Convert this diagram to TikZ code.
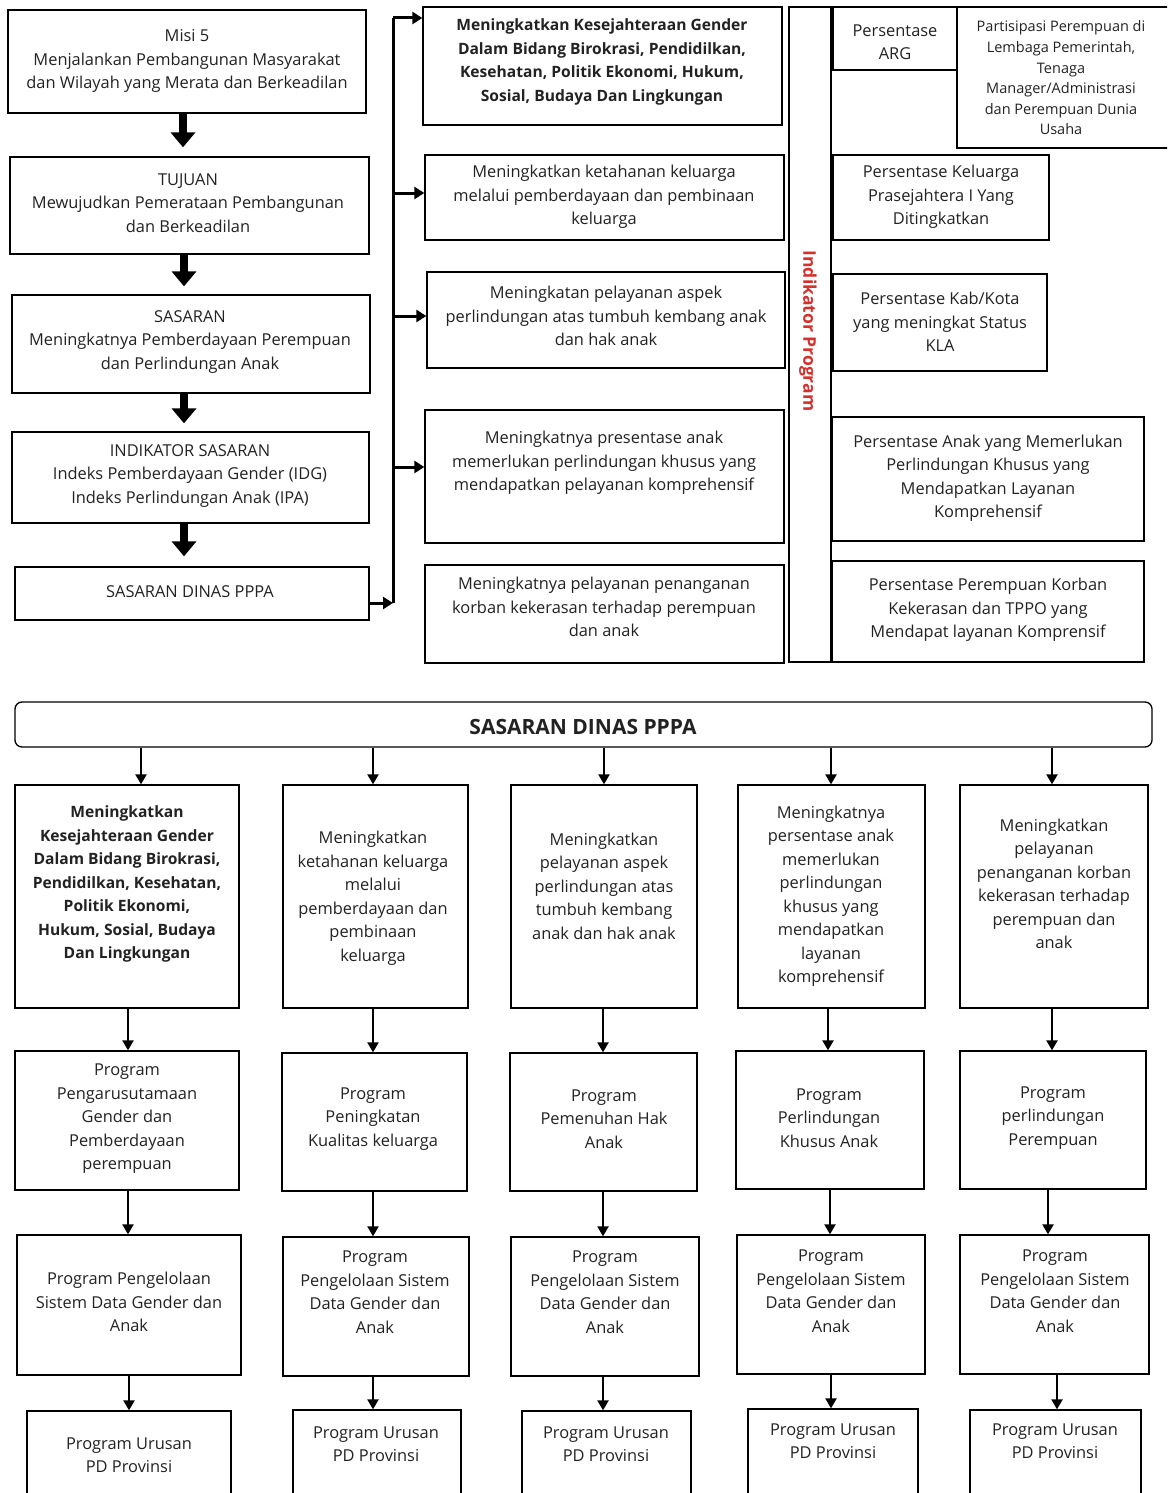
\documentclass[tikz,border=0pt]{standalone}
\usepackage{fontspec}
\setmainfont{Open Sans}
\usetikzlibrary{arrows.meta,fit,calc}
\definecolor{redtxt}{RGB}{214,48,44}
\definecolor{ink}{RGB}{34,34,34}
\tikzset{
  box/.style={draw, line width=1.3pt, rectangle, inner sep=0pt},
  txt/.style={align=center, inner sep=0pt, text=ink, font=\fontsize{16.4}{23.5}\selectfont},
  btxt/.style={align=center, inner sep=0pt, text=ink, font=\fontsize{15.6}{23.5}\selectfont\bfseries},
  stxt/.style={align=center, inner sep=0pt, text=ink, font=\fontsize{14.5}{20.6}\selectfont},
  thinarr/.style={line width=2.2pt, -{Triangle[width=11pt,length=10pt]}},
  fatarr/.style={line width=8pt, -{Triangle[width=24pt,length=15pt]}},
  trunk/.style={line width=3pt},
  brarr/.style={line width=3pt, -{Triangle[width=12pt,length=10pt]}},
}
\begin{document}
\begin{tikzpicture}[x=1pt,y=-1pt]
\useasboundingbox (0,0) rectangle (1167,1493);
\clip (0,0) rectangle (1167,1493);
\fill[white] (0,0) rectangle (1167,1493);

% ---------- left column ----------
\node[box, fit={(8,10) (366,113)}] (misi) {};
\node[txt] (tmisi) at (187,61) {Misi 5\\Menjalankan Pembangunan Masyarakat\\dan Wilayah yang Merata dan Berkeadilan};
\node[box, fit={(10,157) (369,254)}] (tujuan) {};
\node[txt] (ttujuan) at (188,203) {TUJUAN\\Mewujudkan Pemerataan Pembangunan\\dan Berkeadilan};
\node[box, fit={(12,295) (370,393)}] (sasaran) {};
\node[txt] (tsasaran) at (190,342) {SASARAN\\Meningkatnya Pemberdayaan Perempuan\\dan Perlindungan Anak};
\node[box, fit={(12,432) (369,523)}] (indik) {};
\node[txt] (tindik) at (190,476) {INDIKATOR SASARAN\\Indeks Pemberdayaan Gender (IDG)\\Indeks Perlindungan Anak (IPA)};
\node[box, fit={(15,567) (369,620)}] (dinas) {};
\node[txt] (tdinas) at (190,592) {SASARAN DINAS PPPA};

\draw[fatarr] (misi.south -| 183,0) -- ([yshift=9pt]tujuan.north -| 183,0);
\draw[fatarr] (tujuan.south -| 184,0) -- ([yshift=8pt]sasaran.north -| 184,0);
\draw[fatarr] (sasaran.south -| 184,0) -- ([yshift=8pt]indik.north -| 184,0);
\draw[fatarr] (indik.south -| 184,0) -- ([yshift=10pt]dinas.north -| 184,0);

% ---------- middle column ----------
\node[box, fit={(423,7) (782,125)}] (m1) {};
\node[btxt] (tm1) at (602,62) {Meningkatkan Kesejahteraan Gender\\Dalam Bidang Birokrasi, Pendidilkan,\\Kesehatan, Politik Ekonomi, Hukum,\\Sosial, Budaya Dan Lingkungan};
\node[box, fit={(425,155) (784,240)}] (m2) {};
\node[txt] (tm2) at (604,197) {Meningkatkan ketahanan keluarga\\melalui pemberdayaan dan pembinaan\\keluarga};
\node[box, fit={(427,272) (785,368)}] (m3) {};
\node[txt] (tm3) at (606,316) {Meningkatan pelayanan aspek\\perlindungan atas tumbuh kembang anak\\dan hak anak};
\node[box, fit={(425,410) (784,543)}] (m4) {};
\node[txt] (tm4) at (604,463) {Meningkatnya presentase anak\\memerlukan perlindungan khusus yang\\mendapatkan pelayanan komprehensif};
\node[box, fit={(425,565) (784,663)}] (m5) {};
\node[txt] (tm5) at (604,607) {Meningkatnya pelayanan penanganan\\korban kekerasan terhadap perempuan\\dan anak};

% trunk
\coordinate (ttop) at (393,18);
\coordinate (tbot) at (393,603);
\draw[brarr] (dinas.east |- tbot) -- (tbot);
\draw[trunk] (tbot) -- (ttop);
\draw[brarr] (ttop) -- (m1.west |- ttop);
\draw[brarr] (393,193) coordinate (b2) -- (m2.west |- b2);
\draw[brarr] (393,316) coordinate (b3) -- (m3.west |- b3);
\draw[brarr] (393,467) coordinate (b4) -- (m4.west |- b4);

% ---------- indikator program ----------
\node[box, fit={(789,7) (831,662)}] (ip) {};
\node[btxt, text=redtxt, font=\fontsize{17.5}{20}\selectfont\bfseries, rotate=-90] (tip) at (808,331) {Indikator Program};

% ---------- right column ----------
\node[box, fit={(833,7) (957,70)}] (r1a) {};
\node[txt] (tr1a) at (895,42) {Persentase\\ARG};
\node[box, fit={(957,7) (1172,148)}] (r1b) {};
\node[stxt] (tr1b) at (1061,78) {Partisipasi Perempuan di\\Lembaga Pemerintah,\\Tenaga\\Manager/Administrasi\\dan Perempuan Dunia\\Usaha};
\node[box, fit={(833,155) (1049,240)}] (r2) {};
\node[txt] (tr2) at (941,197) {Persentase Keluarga\\Prasejahtera I Yang\\Ditingkatkan};
\node[box, fit={(833,274) (1047,371)}] (r3) {};
\node[txt] (tr3) at (940,322) {Persentase Kab/Kota\\yang meningkat Status\\KLA};
\node[box, fit={(832,417) (1144,541)}] (r4) {};
\node[txt] (tr4) at (988,478) {Persentase Anak yang Memerlukan\\Perlindungan Khusus yang\\Mendapatkan Layanan\\Komprehensif};
\node[box, fit={(832,561) (1144,662)}] (r5) {};
\node[txt] (tr5) at (988,610) {Persentase Perempuan Korban\\Kekerasan dan TPPO yang\\Mendapat layanan Komprensif};

% ---------- bottom section ----------
\node[box, rounded corners=7pt, fit={(15,702) (1152,747)}] (hdr) {};
\node[btxt, font=\fontsize{21}{24}\selectfont\bfseries] (thdr) at (583,727) {SASARAN DINAS PPPA};

% row 1
\node[box, fit={(15,785) (239,1008)}] (c1) {};
\node[btxt] (tc1) at (127,884) {Meningkatkan\\Kesejahteraan Gender\\Dalam Bidang Birokrasi,\\Pendidilkan, Kesehatan,\\Politik Ekonomi,\\Hukum, Sosial, Budaya\\Dan Lingkungan};
\node[box, fit={(283,785) (468,1008)}] (c2) {};
\node[txt] (tc2) at (373,898) {Meningkatkan\\ketahanan keluarga\\melalui\\pemberdayaan dan\\pembinaan\\keluarga};
\node[box, fit={(511,785) (697,1008)}] (c3) {};
\node[txt] (tc3) at (604,886) {Meningkatkan\\pelayanan aspek\\perlindungan atas\\tumbuh kembang\\anak dan hak anak};
\node[box, fit={(738,785) (925,1008)}] (c4) {};
\node[txt] (tc4) at (831,896) {Meningkatnya\\persentase anak\\memerlukan\\perlindungan\\khusus yang\\mendapatkan\\layanan\\komprehensif};
\node[box, fit={(960,785) (1148,1008)}] (c5) {};
\node[txt] (tc5) at (1054,884) {Meningkatkan\\pelayanan\\penanganan korban\\kekerasan terhadap\\perempuan dan\\anak};

% row 2
\node[box, fit={(15,1051) (239,1190)}] (d1) {};
\node[txt] (td1) at (127,1119) {Program\\Pengarusutamaan\\Gender dan\\Pemberdayaan\\perempuan};
\node[box, fit={(282,1053) (467,1191)}] (d2) {};
\node[txt] (td2) at (373,1119) {Program\\Peningkatan\\Kualitas keluarga};
\node[box, fit={(510,1053) (697,1191)}] (d3) {};
\node[txt] (td3) at (604,1119) {Program\\Pemenuhan Hak\\Anak};
\node[box, fit={(736,1051) (924,1189)}] (d4) {};
\node[txt] (td4) at (829,1118) {Program\\Perlindungan\\Khusus Anak};
\node[box, fit={(960,1051) (1146,1189)}] (d5) {};
\node[txt] (td5) at (1053,1118) {Program\\perlindungan\\Perempuan};

% row 3
\node[box, fit={(17,1235) (241,1375)}] (e1) {};
\node[txt] (te1) at (129,1302) {Program Pengelolaan\\Sistem Data Gender dan\\Anak};
\node[box, fit={(283,1237) (469,1376)}] (e2) {};
\node[txt] (te2) at (375,1292) {Program\\Pengelolaan Sistem\\Data Gender dan\\Anak};
\node[box, fit={(511,1237) (699,1376)}] (e3) {};
\node[txt] (te3) at (605,1292) {Program\\Pengelolaan Sistem\\Data Gender dan\\Anak};
\node[box, fit={(737,1235) (925,1374)}] (e4) {};
\node[txt] (te4) at (831,1291) {Program\\Pengelolaan Sistem\\Data Gender dan\\Anak};
\node[box, fit={(960,1235) (1149,1374)}] (e5) {};
\node[txt] (te5) at (1055,1291) {Program\\Pengelolaan Sistem\\Data Gender dan\\Anak};

% row 4
\node[box, fit={(27,1411) (231,1515)}] (f1) {};
\node[txt] (tf1) at (129,1455) {Program Urusan\\PD Provinsi};
\node[box, fit={(293,1410) (461,1515)}] (f2) {};
\node[txt] (tf2) at (376,1444) {Program Urusan\\PD Provinsi};
\node[box, fit={(522,1411) (691,1515)}] (f3) {};
\node[txt] (tf3) at (606,1444) {Program Urusan\\PD Provinsi};
\node[box, fit={(748,1409) (918,1515)}] (f4) {};
\node[txt] (tf4) at (833,1441) {Program Urusan\\PD Provinsi};
\node[box, fit={(970,1410) (1141,1515)}] (f5) {};
\node[txt] (tf5) at (1055,1441) {Program Urusan\\PD Provinsi};

% arrows header -> row 1
\draw[thinarr] (hdr.south -| 141,0) -- (c1.north -| 141,0);
\draw[thinarr] (hdr.south -| 373,0) -- (c2.north -| 373,0);
\draw[thinarr] (hdr.south -| 604,0) -- (c3.north -| 604,0);
\draw[thinarr] (hdr.south -| 831,0) -- (c4.north -| 831,0);
\draw[thinarr] (hdr.south -| 1052,0) -- (c5.north -| 1052,0);
% row 1 -> row 2
\draw[thinarr] (c1.south -| 128,0) -- (d1.north -| 128,0);
\draw[thinarr] (c2.south -| 373,0) -- (d2.north -| 373,0);
\draw[thinarr] (c3.south -| 603,0) -- (d3.north -| 603,0);
\draw[thinarr] (c4.south -| 828,0) -- (d4.north -| 828,0);
\draw[thinarr] (c5.south -| 1052,0) -- (d5.north -| 1052,0);
% row 2 -> row 3
\draw[thinarr] (d1.south -| 128,0) -- (e1.north -| 128,0);
\draw[thinarr] (d2.south -| 373,0) -- (e2.north -| 373,0);
\draw[thinarr] (d3.south -| 603,0) -- (e3.north -| 603,0);
\draw[thinarr] (d4.south -| 830,0) -- (e4.north -| 830,0);
\draw[thinarr] (d5.south -| 1048,0) -- (e5.north -| 1048,0);
% row 3 -> row 4
\draw[thinarr] (e1.south -| 129,0) -- (f1.north -| 129,0);
\draw[thinarr] (e2.south -| 373,0) -- (f2.north -| 373,0);
\draw[thinarr] (e3.south -| 603,0) -- (f3.north -| 603,0);
\draw[thinarr] (e4.south -| 831,0) -- (f4.north -| 831,0);
\draw[thinarr] (e5.south -| 1057,0) -- (f5.north -| 1057,0);
\end{tikzpicture}
\end{document}
